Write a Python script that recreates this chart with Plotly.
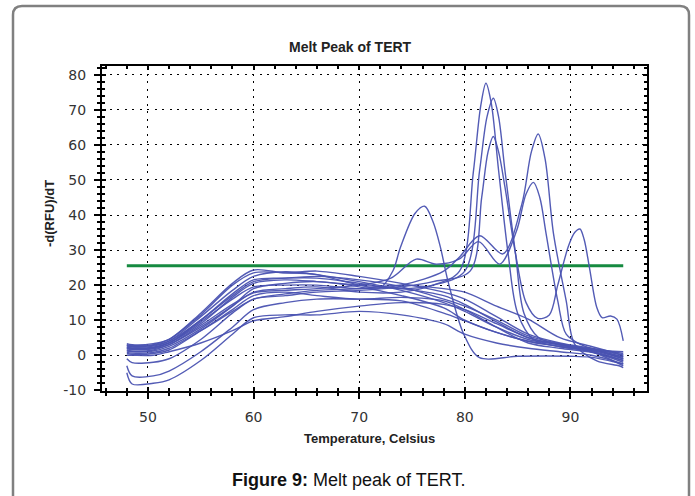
import plotly.graph_objects as go

# ---------------- data ----------------
# curves with large melt peaks
t_p1 = [48, 48.5, 50.5, 52, 55, 58, 60, 63, 66, 70, 74, 77, 79.5, 80.8, 81.5, 82.0, 82.5, 83.2, 84.1, 85, 86.5, 89, 92, 95]
v_p1 = [1.5, 1.2, 1.5, 3, 8, 14, 18, 19, 19.5, 18, 18, 20, 24, 52, 71, 77.6, 72, 52.7, 29, 12, 4.5, 2.5, 1.2, -1.5]

t_p2 = [48, 48.5, 50.5, 52, 55, 58, 60, 63, 66, 70, 74, 77, 80.0, 81.4, 82.1, 82.7, 83.2, 83.8, 84.8, 85.6, 87, 90, 93, 95]
v_p2 = [2.8, 2.5, 2.8, 4, 10, 17.5, 21.5, 22, 22, 20.5, 19, 20, 24, 52.7, 68, 73.3, 68, 52.7, 29, 12, 5, 2.5, 1, -0.5]

t_p3 = [48, 48.5, 50.5, 52, 55, 58, 60, 63, 66, 70, 74, 77, 80.5, 81.6, 82.2, 82.7, 83.2, 83.8, 84.8, 85.8, 86.9, 88.0,
        88.8, 89.8, 90.4, 90.9, 91.3, 91.8, 92.5, 93.0, 93.8, 94.4, 95.0]
v_p3 = [0.8, 0.6, 0.8, 2, 7, 12.5, 16, 17, 18, 18.5, 19.5, 21, 24, 45, 58, 62.4, 58, 48, 29, 15, 10.5, 11.5,
        20, 31, 35, 36.0, 33, 25, 13.6, 10.7, 11.2, 10.3, 4.1]

t_p4 = [48, 48.5, 50.5, 52, 55, 58, 60, 63, 66, 70, 74, 78, 79.5, 81.4, 83.6, 85.4, 86.3, 86.95, 87.6, 88.4, 89.6, 90.4, 92.5, 94.6, 95]
v_p4 = [2.2, 2.0, 2.2, 3.5, 9.5, 16, 19.5, 20, 20, 19, 20, 24, 28, 34.1, 28.9, 43.1, 58, 63.1, 56, 34.6, 15.5, 3.2, -1.6, -3, -3.5]

t_p5 = [48, 48.5, 50.5, 52, 55, 58, 60, 63, 66, 70, 73, 75.4, 77.3, 79.5, 81.3, 83.3, 84.9, 85.8, 86.5, 87.1, 87.7, 88.8, 89.6, 91, 93, 95]
v_p5 = [1.8, 1.6, 1.8, 3, 8.5, 14.5, 17.8, 18.5, 19, 20, 22, 27.4, 26, 27.5, 32.4, 26, 35.5, 46, 49.3, 45, 34.6, 15.5, 6, 3, 1, -1]

t_p6 = [48, 48.5, 50.5, 52, 55, 58, 60, 63, 66, 70, 72, 73.2, 73.9, 75.3, 76.2, 77.0, 77.7, 78.4, 79.9, 81.4, 85, 90, 92, 95]
v_p6 = [3.0, 2.8, 3.0, 4.5, 11.5, 20, 23.5, 23.5, 23, 20, 19.3, 24.1, 30.7, 40.5, 42.5, 38, 30.7, 21.2, 6, -0.7, -0.3, -0.3, -0.6, -2.5]

# curves that decline without a distinct peak
t_band = [48, 48.5, 50.5, 52, 55, 58, 60, 63, 66, 70, 74, 78, 80, 83, 86, 89, 92, 95]
v_b1 = [3.3, 3.0, 3.3, 4.5, 12, 20.5, 24.3, 23.5, 24, 22.5, 20.5, 18, 16, 11, 6, 3.5, 2, 0.5]
v_b2 = [2.6, 2.4, 2.6, 4, 11, 18.5, 22.5, 23.8, 23, 21, 18.5, 15, 12.5, 8, 4.5, 3, 1.5, -1]
v_b3 = [2.0, 1.8, 2.0, 3.5, 9, 16.5, 20.5, 21.5, 21, 20, 19, 17, 14.5, 9.5, 5, 3, 1.5, 1]
v_b4 = [1.2, 1.0, 1.2, 2.5, 7.5, 14, 19, 20.5, 21, 19.5, 17, 13.5, 10, 6.5, 4, 2.5, 1, -2]
v_b5 = [0.5, 0.3, 0.5, 1.5, 7, 13, 17, 18, 17, 16, 16.5, 15.5, 13, 8, 3.5, 2, 0.8, -1.5]
v_b6 = [-1.0, -2.1, -2.0, -1, 4.5, 12, 16, 17.5, 18.5, 19, 20, 19, 18, 14, 10.3, 5, 2.5, 0]
v_b7 = [-3.0, -5.9, -5.9, -4.5, 1, 8, 13, 15, 16, 16, 15.5, 12, 9.8, 6.5, 4, 2.5, 1, -3]
v_b8 = [-5.0, -8.2, -8.0, -7, -1.5, 6, 10.7, 11.5, 11.5, 12.5, 11.5, 9, 6, 3.5, 2, 1, 0, -2.5]
v_b9 = [0.0, 0.0, 0.0, 1, 3.5, 7, 9.8, 11, 12.5, 14, 15, 14.5, 13, 9, 5, 3, 1.5, -0.5]
v_b10 = [2.3, 2.1, 2.3, 3.5, 10, 17, 21, 22, 22.5, 21.5, 19.5, 16, 14, 10, 5.5, 3.3, 1.8, 0]

threshold = 25.5
threshold_t = [48, 95]

x_ticks = [50, 60, 70, 80, 90]
x_tick_labels = ["50", "60", "70", "80", "90"]
y_ticks = [-10, 0, 10, 20, 30, 40, 50, 60, 70, 80]
y_tick_labels = ["-10", "0", "10", "20", "30", "40", "50", "60", "70", "80"]

title_text = "Melt Peak of TERT"
x_title = "Temperature, Celsius"
y_title = "-d(RFU)/dT"
caption = "<b>Figure 9:</b> Melt peak of TERT."

# ---------------- figure ----------------
W, H = 695, 496
L, R, T, B = 102, 48, 66, 105
PW, PH = W - L - R, H - T - B

def fx(px):
    return (px - L) / PW

def fy(py):
    return (H - B - py) / PH

BLUE = "#4a53b2"
GREEN = "#168a40"

curves = [(t_p1, v_p1), (t_p2, v_p2), (t_p3, v_p3), (t_p4, v_p4), (t_p5, v_p5), (t_p6, v_p6)]
for vb in [v_b1, v_b2, v_b3, v_b4, v_b5, v_b6, v_b7, v_b8, v_b9, v_b10]:
    curves.append((t_band, vb))

fig = go.Figure()
fig.add_trace(go.Scatter(x=threshold_t, y=[threshold, threshold], mode="lines",
                         line=dict(color=GREEN, width=3), showlegend=False, hoverinfo="skip"))
for tx, vy in curves:
    fig.add_trace(go.Scatter(x=tx, y=vy, mode="lines",
                             line=dict(color=BLUE, width=1.4, shape="spline", smoothing=0.9),
                             opacity=0.95, showlegend=False, hoverinfo="skip"))
# empty trace to activate the overlay axes (inside ticks)
fig.add_trace(go.Scatter(x=[None], y=[None], xaxis="x2", yaxis="y2", showlegend=False, hoverinfo="skip"))

xr = [45.65, 97.25]
yr = [-10.2, 82.5]
tickfont = dict(family="DejaVu Sans, Verdana, sans-serif", size=14, color="#333333")

fig.update_layout(
    width=W, height=H,
    margin=dict(l=L, r=R, t=T, b=B, pad=0),
    paper_bgcolor="white", plot_bgcolor="white",
    xaxis=dict(range=xr, tickvals=x_ticks, ticktext=x_tick_labels, ticks="outside", ticklen=6,
               tickwidth=1.5, tickcolor="black", showline=True, linecolor="black", linewidth=2,
               mirror=True, showgrid=True, gridcolor="black", gridwidth=1, griddash="2px,5.5px",
               zeroline=False, tickfont=tickfont, ticklabelstandoff=6,
               minor=dict(dtick=2, tick0=50, ticks="outside", ticklen=3, tickcolor="black",
                          tickwidth=1.5, showgrid=False)),
    yaxis=dict(range=yr, tickvals=y_ticks, ticktext=y_tick_labels, ticks="outside", ticklen=6,
               tickwidth=1.5, tickcolor="black", showline=True, linecolor="black", linewidth=2,
               mirror=True, showgrid=True, gridcolor="black", gridwidth=1, griddash="2px,5.5px",
               zeroline=False, tickfont=tickfont, ticklabelstandoff=5,
               minor=dict(dtick=2, tick0=0, ticks="outside", ticklen=3, tickcolor="black",
                          tickwidth=1.5, showgrid=False)),
    xaxis2=dict(range=xr, overlaying="x", side="bottom", tickvals=x_ticks, ticks="inside",
                ticklen=4, tickwidth=1.5, tickcolor="black", mirror="allticks", showline=False,
                showgrid=False, zeroline=False, showticklabels=False,
                minor=dict(dtick=2, tick0=50, ticks="inside", ticklen=3, tickcolor="black",
                           tickwidth=1.5, showgrid=False)),
    yaxis2=dict(range=yr, overlaying="y", side="left", tickvals=y_ticks, ticks="inside",
                ticklen=4, tickwidth=1.5, tickcolor="black", mirror="allticks", showline=False,
                showgrid=False, zeroline=False, showticklabels=False,
                minor=dict(dtick=2, tick0=0, ticks="inside", ticklen=3, tickcolor="black",
                           tickwidth=1.5, showgrid=False)),
)

# outer rounded frame (open at the bottom, beyond the page edge)
x0, x1 = fx(13), fx(689)
y0, y1 = fy(6), fy(520)
rx, ry = 9 / PW, 9 / PH
frame_path = (f"M {x0},{y1} L {x0},{y0 - ry} Q {x0},{y0} {x0 + rx},{y0} "
              f"L {x1 - rx},{y0} Q {x1},{y0} {x1},{y0 - ry} L {x1},{y1}")
fig.add_shape(type="path", path=frame_path, xref="paper", yref="paper",
              line=dict(color="#808080", width=2.5), layer="above")

lab_font = dict(family="Liberation Sans, Arial, sans-serif", size=13, color="#222222")
fig.add_annotation(text=f"<b>{title_text}</b>", x=fx(350), y=fy(47), xref="paper", yref="paper",
                   showarrow=False, font=dict(family="Liberation Sans, Arial, sans-serif", size=14, color="#222222"),
                   xanchor="center", yanchor="middle")
fig.add_annotation(text=f"<b>{x_title}</b>", x=fx(369), y=fy(438), xref="paper", yref="paper",
                   showarrow=False, font=lab_font, xanchor="center", yanchor="middle")
fig.add_annotation(text=f"<b>{y_title}</b>", x=fx(49), y=fy(214), xref="paper", yref="paper",
                   showarrow=False, font=lab_font, textangle=-90, xanchor="center", yanchor="middle")
fig.add_annotation(text=caption, x=fx(348), y=fy(480), xref="paper", yref="paper",
                   showarrow=False, font=dict(family="Liberation Sans, Arial, sans-serif", size=18, color="#111111"),
                   xanchor="center", yanchor="middle")

fig.write_html("out.html", config={"displayModeBar": False},
               post_script="document.body.style.margin='0';")
